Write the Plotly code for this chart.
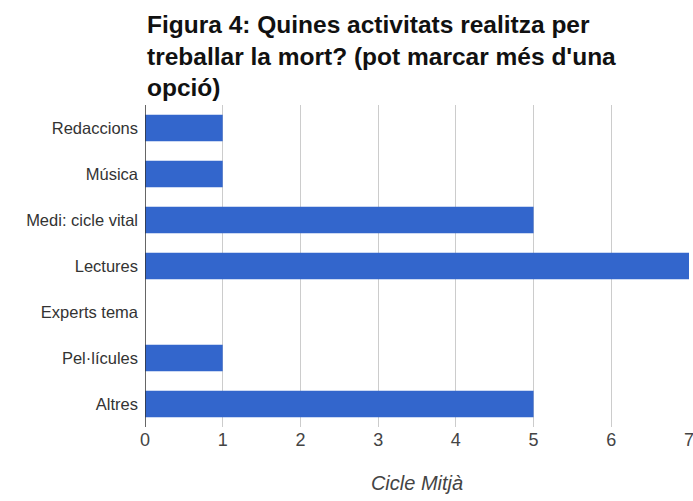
import plotly.graph_objects as go

categories = ["Redaccions", "Música", "Medi: cicle vital", "Lectures", "Experts tema", "Pel·lícules", "Altres"]
values = [1, 1, 5, 7, 0, 1, 5]
title_lines = ["Figura 4: Quines activitats realitza per", "treballar la mort? (pot marcar més d'una", "opció)"]
x_title = "Cicle Mitjà"

fig = go.Figure(go.Bar(
    x=values, y=categories, orientation="h",
    marker=dict(color="#3366CC", line=dict(width=0)),
))

W, H = 693, 501
L, R, T, B = 145, 4, 105, 74
fig.update_layout(
    width=W, height=H,
    margin=dict(l=L, r=R, t=T, b=B, autoexpand=False),
    paper_bgcolor="white", plot_bgcolor="white",
    bargap=0.42,
    showlegend=False,
    font=dict(family="Arial, Liberation Sans, sans-serif", color="#222222"),
)
fig.update_xaxes(
    range=[0, 7], dtick=1, showgrid=True, gridcolor="#cccccc", gridwidth=1,
    zeroline=False, showline=False, ticks="", automargin=False,
    ticklabeloverflow="allow",
    tickfont=dict(size=18, color="#444444"),
    title=dict(text=x_title, font=dict(size=20, color="#444444", style="italic"), standoff=26),
)
fig.update_yaxes(
    categoryorder="array", categoryarray=categories[::-1],
    autorange=True, showgrid=False, zeroline=False, automargin=False,
    showline=False, ticks="", tickfont=dict(size=16.5, color="#333333"),
    ticklabelstandoff=6,
)
# vertical axis line at x=0
fig.add_shape(type="line", xref="x", yref="paper", x0=0, x1=0, y0=0, y1=1,
              line=dict(color="#333333", width=1.5))

plot_h = H - T - B
ys = [25, 56, 87]
for t, yy in zip(title_lines, ys):
    fig.add_annotation(text="<b>" + t + "</b>", xref="paper", yref="paper",
                       x=0, xanchor="left", y=1 + (T - yy) / plot_h, yanchor="middle",
                       showarrow=False, font=dict(size=24.5, color="#111111"))

fig.write_html(
    "out.html",
    config={"displayModeBar": False},
    post_script="document.body.style.margin='0';document.body.style.overflow='hidden';",
)
